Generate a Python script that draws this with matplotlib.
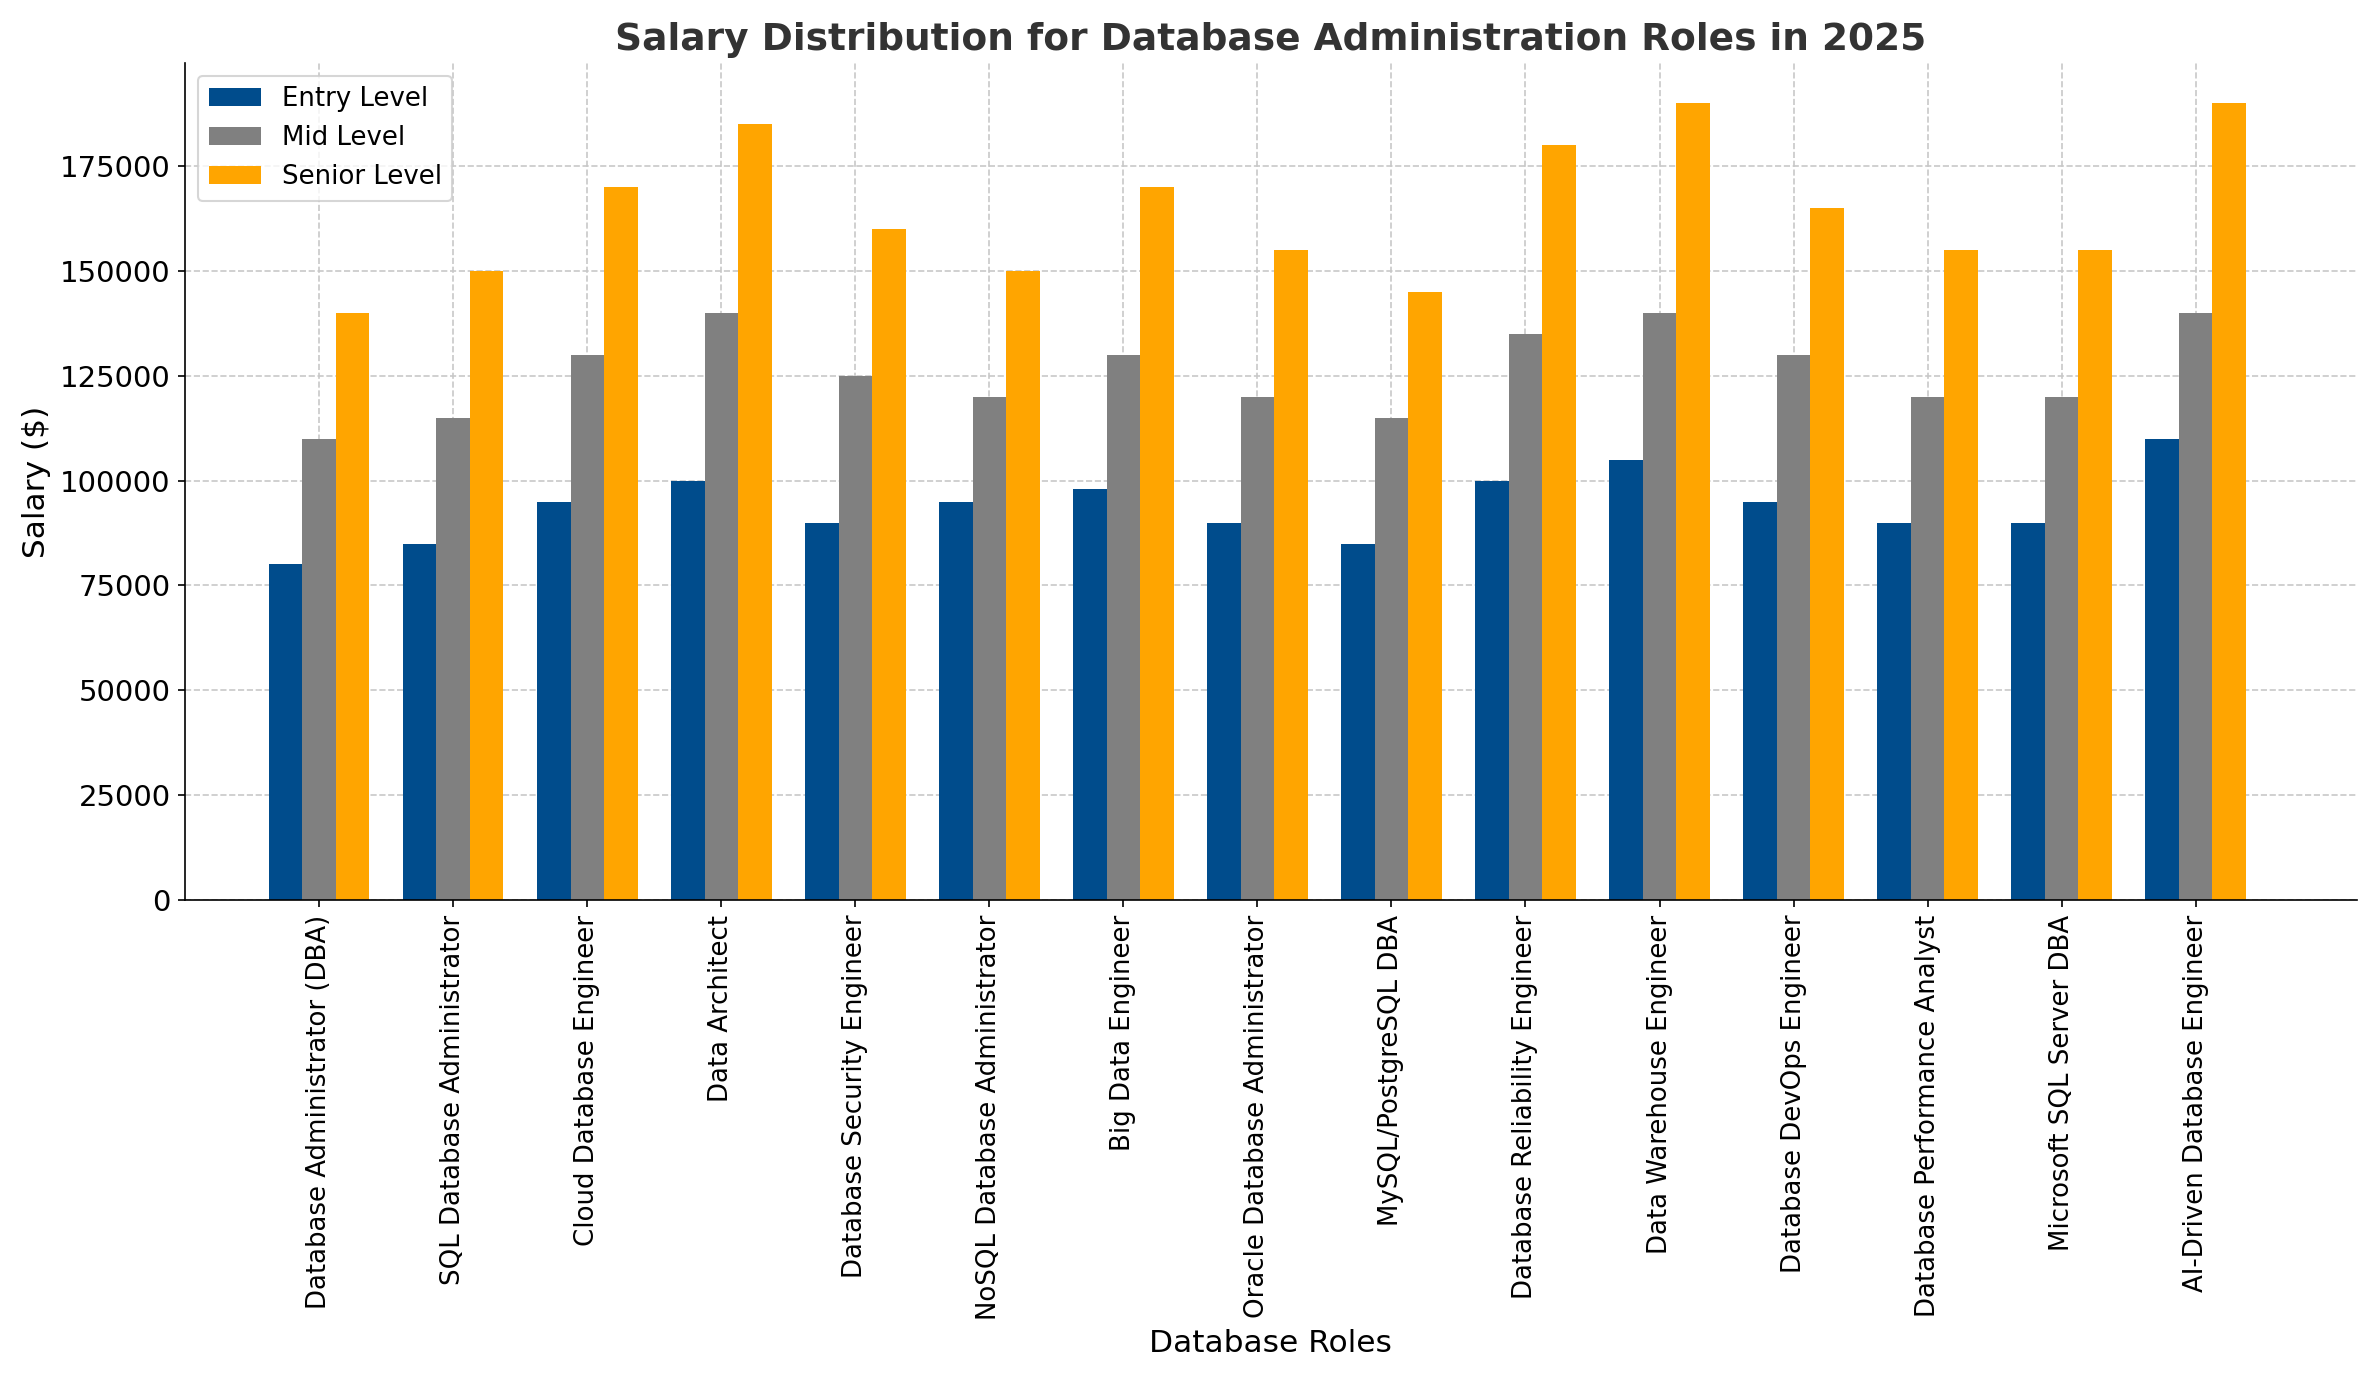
import numpy as np
import matplotlib.pyplot as plt

roles = ["Database Administrator (DBA)", "SQL Database Administrator", "Cloud Database Engineer",
         "Data Architect", "Database Security Engineer", "NoSQL Database Administrator",
         "Big Data Engineer", "Oracle Database Administrator", "MySQL/PostgreSQL DBA",
         "Database Reliability Engineer", "Data Warehouse Engineer", "Database DevOps Engineer",
         "Database Performance Analyst", "Microsoft SQL Server DBA", "AI-Driven Database Engineer"]
entry = [80000, 85000, 95000, 100000, 90000, 95000, 98000, 90000, 85000, 100000, 105000, 95000, 90000, 90000, 110000]
mid = [110000, 115000, 130000, 140000, 125000, 120000, 130000, 120000, 115000, 135000, 140000, 130000, 120000, 120000, 140000]
senior = [140000, 150000, 170000, 185000, 160000, 150000, 170000, 155000, 145000, 180000, 190000, 165000, 155000, 155000, 190000]

x = np.arange(len(roles))
w = 0.25

fig, ax = plt.subplots(figsize=(15.86, 9.2), dpi=150)
ax.bar(x - w, entry, w, label='Entry Level', color='#004c8c')
ax.bar(x, mid, w, label='Mid Level', color='#808080')
ax.bar(x + w, senior, w, label='Senior Level', color='#ffa500')

ax.set_xticks(x)
ax.set_xticklabels(roles, rotation=90, fontsize=12.5)
ax.set_xlim(-1.0, 15.2)
ax.set_xlabel('Database Roles', fontsize=15)
ax.set_ylabel('Salary ($)', fontsize=15)
ax.tick_params(axis='y', labelsize=14)
ax.set_title('Salary Distribution for Database Administration Roles in 2025',
             fontsize=18, fontweight='bold', color='#333333')
ax.grid(True, linestyle='--', color='#c8c8c8', linewidth=0.8)
ax.set_axisbelow(True)
ax.spines['top'].set_visible(False)
ax.spines['right'].set_visible(False)
ax.legend(loc='upper left', fontsize=12.5)

fig.tight_layout()
fig.savefig('out.png')
